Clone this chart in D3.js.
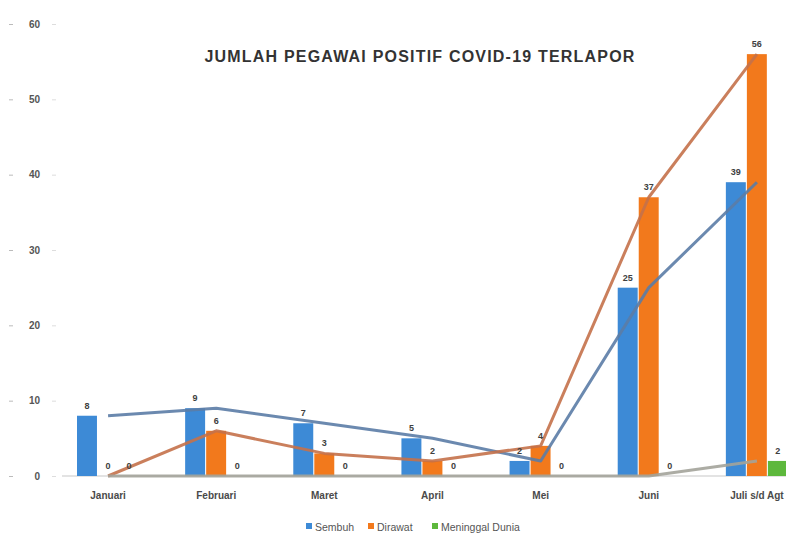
<!DOCTYPE html>
<html>
<head>
<meta charset="utf-8">
<script src="https://cdn.jsdelivr.net/npm/d3@7"></script>
<style>
  html, body { margin: 0; padding: 0; background: #ffffff; }
  svg { display: block; font-family: "Liberation Sans", Arial, sans-serif; }
</style>
</head>
<body>
<svg id="chart" width="786" height="535"></svg>
<script>
// Monthly counts of employees reported positive for COVID-19
const categories = ["Januari", "Februari", "Maret", "April", "Mei", "Juni", "Juli s/d Agt"];
const seriesNames = ["Sembuh", "Dirawat", "Meninggal Dunia"];
const sembuh    = [8, 9, 7, 5, 2, 25, 39];
const dirawat   = [0, 6, 3, 2, 4, 37, 56];
const meninggal = [0, 0, 0, 0, 0, 0, 2];
const yTicks = [0, 10, 20, 30, 40, 50, 60];
const title = "JUMLAH PEGAWAI POSITIF COVID-19 TERLAPOR";

const seriesValues = [sembuh, dirawat, meninggal];
const barColors  = ["#3d8ad6", "#f2791c", "#5db83c"];
const lineColors = ["#5b7ca6", "#c4714a", "#a3a39a"];

const svg = d3.select("#chart");

const x0 = d3.scaleBand().domain(categories).range([54, 811]);
const x1 = d3.scaleBand().domain(seriesNames).range([23, 85]).paddingInner(0.05);
const y  = d3.scaleLinear().domain([0, 60]).range([476, 24]);

// clip so the last group runs off the right edge
svg.append("defs").append("clipPath").attr("id", "plotClip")
  .append("rect").attr("x", 0).attr("y", 0).attr("width", 786).attr("height", 535);

const g = svg.append("g").attr("clip-path", "url(#plotClip)");

// title
svg.append("text")
  .attr("x", 420).attr("y", 62)
  .attr("text-anchor", "middle")
  .attr("font-size", 16).attr("font-weight", "bold")
  .attr("letter-spacing", 1.2)
  .attr("fill", "#333")
  .text(title);

// y axis labels with small tick marks
const yAxis = d3.axisLeft(y).tickValues(yTicks).tickSize(0).tickPadding(0);
const ya = svg.append("g").attr("transform", "translate(40,0)").call(yAxis);
ya.select(".domain").remove();
ya.selectAll("text").attr("font-size", 10).attr("font-weight", "bold").attr("fill", "#555")
  .attr("font-family", "Liberation Sans, Arial, sans-serif");
ya.selectAll(".tick").append("line").attr("x1", -31).attr("x2", -27).attr("stroke", "#bbb");
ya.selectAll(".tick").append("line").attr("x1", 12).attr("x2", 16).attr("stroke", "#ddd");

// baseline
g.append("line")
  .attr("x1", 62).attr("x2", 786)
  .attr("y1", y(0)).attr("y2", y(0))
  .attr("stroke", "#c8c8c8").attr("stroke-width", 1.2);

// bars
seriesNames.forEach((name, si) => {
  const vals = seriesValues[si];
  g.selectAll(".bar-" + si)
    .data(categories)
    .join("rect")
    .attr("x", c => x0(c) + x1(name))
    .attr("y", (c, i) => y(vals[i]))
    .attr("width", x1.bandwidth())
    .attr("height", (c, i) => y(0) - y(vals[i]))
    .attr("fill", barColors[si]);
});

// lines through category centres
const cx = c => x0(c) + x0.bandwidth() / 2;
seriesNames.forEach((name, si) => {
  const vals = seriesValues[si];
  const line = d3.line().x((c) => cx(c)).y((c, i) => y(vals[i]));
  g.append("path")
    .datum(categories)
    .attr("d", line)
    .attr("fill", "none")
    .attr("stroke", lineColors[si])
    .attr("stroke-width", 3)
    .attr("stroke-linejoin", "round")
    .attr("opacity", 0.9);
});

// value labels above bars
seriesNames.forEach((name, si) => {
  const vals = seriesValues[si];
  g.selectAll(".lbl-" + si)
    .data(categories)
    .join("text")
    .attr("x", c => x0(c) + x1(name) + x1.bandwidth() / 2)
    .attr("y", (c, i) => y(vals[i]) - 7)
    .attr("text-anchor", "middle")
    .attr("font-size", 9).attr("font-weight", "bold")
    .attr("fill", "#404040")
    .text((c, i) => vals[i]);
});

// category labels
const xAxis = d3.axisBottom(x0).tickSize(0).tickPadding(0);
const xa = g.append("g").attr("transform", "translate(0,493)").call(xAxis);
xa.select(".domain").remove();
xa.selectAll("text").attr("font-size", 10).attr("font-weight", "bold").attr("fill", "#4a4a4a").attr("dy", "0.6em")
  .attr("font-family", "Liberation Sans, Arial, sans-serif");

// legend
const legendX = [306, 368, 432];
const legend = svg.append("g").attr("transform", "translate(0,527)");
seriesNames.forEach((name, si) => {
  legend.append("rect")
    .attr("x", legendX[si]).attr("y", -4).attr("width", 6).attr("height", 6)
    .attr("fill", barColors[si]);
  legend.append("text")
    .attr("x", legendX[si] + 9).attr("y", 0).attr("dy", "0.35em")
    .attr("font-size", 10.5).attr("fill", "#555")
    .text(name);
});
</script>
</body>
</html>
